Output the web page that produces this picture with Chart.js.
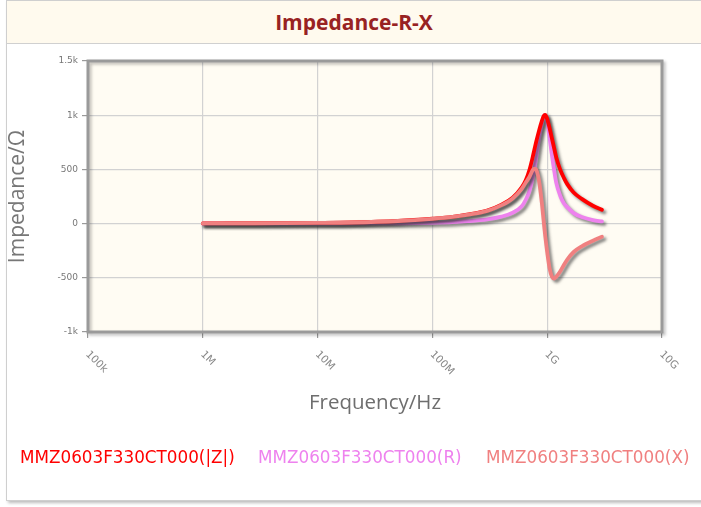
<!DOCTYPE html>
<html>
<head>
<meta charset="utf-8">
<script src="https://cdn.jsdelivr.net/npm/chart.js@4.4.1/dist/chart.umd.min.js"></script>
<style>
  html, body { margin: 0; padding: 0; width: 701px; height: 507px; overflow: hidden; background: #fff; }
  #frame { position: absolute; left: 6px; top: 0; width: 700px; height: 499px; border: 1px solid #cfcfcf; box-shadow: 2px 2px 3px #bdbdbd; background: #fff; }
  #title { position: absolute; left: 7px; top: 1px; width: 694px; height: 42px; background: #fffaee; border-bottom: 1px solid #d0d0d0;
           font-family: "Open Sans", sans-serif; font-weight: bold; font-size: 21px; color: #982222; text-align: center; line-height: 42px; }
  canvas { position: absolute; left: 0; top: 0; }
  .lg { position: absolute; top: 446px; font-family: "DejaVu Sans", sans-serif; font-size: 16.8px; white-space: nowrap; line-height: 22px; }
</style>
</head>
<body>
<div id="frame"></div>
<div id="title">Impedance-R-X</div>
<canvas id="c" width="701" height="507"></canvas>
<div class="lg" id="lg0" style="left:20px;color:#ff0000"></div>
<div class="lg" id="lg1" style="left:258px;color:#ee82ee"></div>
<div class="lg" id="lg2" style="left:486px;color:#f08080"></div>
<script>
// ---- data ----
const seriesNames = ["MMZ0603F330CT000(|Z|)", "MMZ0603F330CT000(R)", "MMZ0603F330CT000(X)"];
const frequencies = [1e6, 2e6, 5e6, 1e7, 2e7, 5e7, 1e8, 1.5e8, 2e8, 3e8, 4e8, 5e8, 6e8, 6.5e8, 7e8, 7.5e8, 7.8e8, 8e8, 8.5e8, 9e8, 9.2e8, 9.4e8, 9.6e8, 9.8e8, 1e9, 1.05e9, 1.1e9, 1.15e9, 1.2e9, 1.3e9, 1.4e9, 1.5e9, 1.7e9, 2e9, 2.5e9, 3e9];
const impedanceZ = [2, 3, 4, 6, 10, 24, 45, 62, 82, 120, 175, 240, 335, 400, 495, 620, 700, 750, 860, 950, 980, 998, 1002, 990, 965, 880, 785, 695, 610, 495, 420, 362, 287, 228, 165, 127];
const resistanceR = [0, 0, 0, 0, 1, 3, 8, 14, 22, 40, 65, 100, 160, 220, 300, 430, 530, 600, 790, 930, 970, 995, 1000, 985, 945, 790, 630, 490, 375, 255, 185, 150, 97, 60, 32, 20];
const reactanceX = [2, 3, 4, 6, 10, 24, 44, 61, 80, 117, 170, 232, 320, 380, 430, 495, 508, 500, 390, 180, 80, -20, -110, -190, -265, -415, -490, -508, -490, -440, -380, -330, -262, -210, -158, -122];
const xTickValues = [1e5, 1e6, 1e7, 1e8, 1e9, 1e10];
const xTickLabels = ["100k", "1M", "10M", "100M", "1G", "10G"];
const yTickLabels = {"1500": "1.5k", "1000": "1k", "500": "500", "0": "0", "-500": "-500", "-1000": "-1k"};
const seriesColors = ["#ff0000", "#ee82ee", "#f08080"];

seriesNames.forEach((n, i) => { document.getElementById("lg" + i).textContent = n; });

const toPts = arr => frequencies.map((f, i) => ({x: f, y: arr[i]}));

const bgPlugin = {
  id: "bg",
  beforeDraw(chart) {
    const {ctx, chartArea: a} = chart;
    ctx.save();
    ctx.fillStyle = "#fffcf3";
    ctx.fillRect(a.left, a.top, a.right - a.left, a.bottom - a.top);
    ctx.restore();
  },
  beforeDatasetsDraw(chart) {
    const {ctx, chartArea: a} = chart;
    ctx.save();
    ctx.shadowColor = "rgba(0,0,0,0.25)";
    ctx.shadowOffsetX = 2; ctx.shadowOffsetY = 2; ctx.shadowBlur = 3;
    ctx.strokeStyle = "#9a9a9a";
    ctx.lineWidth = 3;
    ctx.strokeRect(a.left, a.top, a.right - a.left, a.bottom - a.top);
    ctx.restore();
  },
  beforeDatasetDraw(chart) {
    const ctx = chart.ctx;
    ctx.save();
    ctx.shadowColor = "rgba(50,50,50,0.6)";
    ctx.shadowOffsetX = 2.5; ctx.shadowOffsetY = 2.5; ctx.shadowBlur = 3;
  },
  afterDatasetDraw(chart) { chart.ctx.restore(); },
  afterDraw(chart) {
    const {ctx} = chart;
    const xs = chart.scales.x;
    ctx.save();
    ctx.fillStyle = "#888";
    ctx.font = "10.5px 'DejaVu Sans', sans-serif";
    ctx.textAlign = "left";
    ctx.textBaseline = "top";
    xTickValues.forEach((v, i) => {
      const px = xs.getPixelForValue(v);
      ctx.save();
      ctx.translate(px + 3, chart.chartArea.bottom + 17);
      ctx.rotate(Math.PI / 4);
      ctx.fillText(xTickLabels[i], 0, 0);
      ctx.restore();
    });
    ctx.restore();
  }
};

new Chart(document.getElementById("c"), {
  type: "line",
  data: {
    datasets: [
      {label: seriesNames[0], data: toPts(impedanceZ), borderColor: seriesColors[0], order: 1},
      {label: seriesNames[1], data: toPts(resistanceR), borderColor: seriesColors[1], order: 2},
      {label: seriesNames[2], data: toPts(reactanceX), borderColor: seriesColors[2], order: 0}
    ].map(d => Object.assign(d, {borderWidth: 3.8, pointRadius: 0, fill: false, cubicInterpolationMode: "monotone", borderCapStyle: "round", borderJoinStyle: "round"}))
  },
  options: {
    responsive: false,
    animation: false,
    layout: {padding: {left: 0, top: 61, right: 39, bottom: 0}},
    plugins: {legend: {display: false}, tooltip: {enabled: false}, title: {display: false}},
    scales: {
      x: {
        type: "logarithmic", min: 1e5, max: 1e10,
        afterBuildTicks: s => { s.ticks = xTickValues.map(v => ({value: v})); },
        afterFit: s => { s.height = 175; },
        ticks: {display: false},
        grid: {color: "#d2d2d2", tickColor: "#9a9a9a", tickLength: 6, lineWidth: 1.2},
        border: {display: false},
        title: {display: true, text: "Frequency/Hz", color: "#6e6e6e", font: {family: "'Open Sans', sans-serif", size: 20.5}, padding: {top: 0, bottom: 92}}
      },
      y: {
        min: -1000, max: 1500,
        afterFit: s => { s.width = 88; },
        ticks: {stepSize: 500, color: "#777", padding: 4, font: {family: "'DejaVu Sans', sans-serif", size: 9},
                callback: v => yTickLabels[String(v)] ?? String(v)},
        grid: {color: "#d2d2d2", tickColor: "#9a9a9a", tickLength: 6, lineWidth: 1.2},
        border: {display: false},
        title: {display: true, text: "Impedance/Ω", color: "#777", font: {family: "'Open Sans', sans-serif", size: 21}, padding: {top: 5, bottom: 0}}
      }
    }
  },
  plugins: [bgPlugin]
});
</script>
</body>
</html>
